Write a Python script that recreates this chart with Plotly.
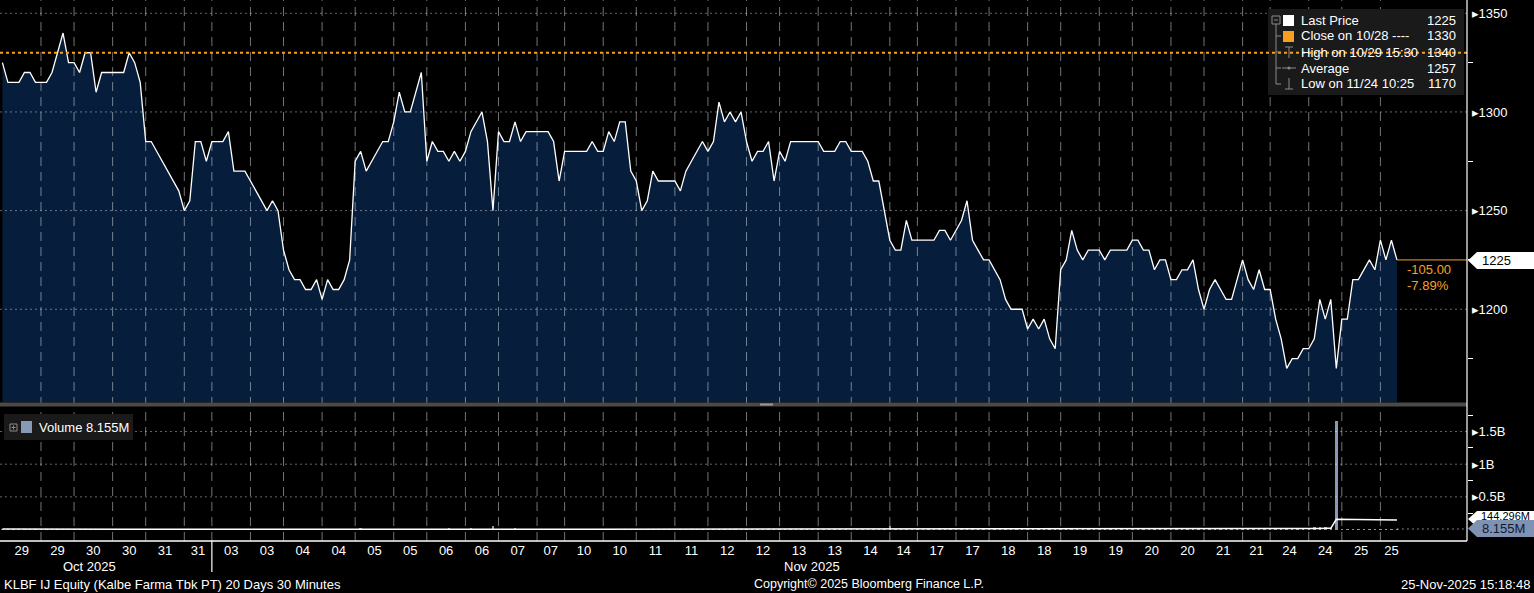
import plotly.graph_objects as go
import pandas as pd

# ---------------- data ----------------
DAY_LABELS = ["29", "30", "31", "03", "04", "05", "06", "07", "10", "11",
              "12", "13", "14", "17", "18", "19", "20", "21", "24", "25"]
# points per session (morning, afternoon) for each day
SESSION_POINTS = [7, 6, 7, 6, 7, 5, 7, 6, 7, 6, 7, 6, 7, 6, 7, 5, 7, 6, 7, 6,
                  7, 6, 7, 6, 7, 5, 7, 6, 7, 6, 7, 6, 7, 6, 7, 5, 7, 6, 7, 4]

PRICE = [
    1325, 1315, 1315, 1315, 1320, 1320, 1315, 1315, 1315, 1320, 1330, 1340, 1325,   # 10/29
    1325, 1320, 1330, 1330, 1310, 1320, 1320, 1320, 1320, 1320, 1330, 1325, 1315,   # 10/30
    1285, 1285, 1280, 1275, 1270, 1265, 1260, 1250, 1255, 1285, 1285, 1275,         # 10/31
    1285, 1285, 1285, 1290, 1270, 1270, 1270, 1265, 1260, 1255, 1250, 1255, 1250,   # 11/03
    1230, 1220, 1215, 1215, 1210, 1210, 1215, 1205, 1215, 1210, 1210, 1215, 1225,   # 11/04
    1275, 1280, 1270, 1275, 1280, 1285, 1285, 1295, 1310, 1300, 1300, 1310, 1320,   # 11/05
    1275, 1285, 1280, 1280, 1275, 1280, 1275, 1280, 1290, 1295, 1300, 1285, 1250,   # 11/06
    1290, 1285, 1285, 1295, 1285, 1290, 1290, 1290, 1290, 1290, 1285, 1265,         # 11/07
    1280, 1280, 1280, 1280, 1280, 1285, 1280, 1280, 1290, 1285, 1295, 1295, 1270,   # 11/10
    1265, 1250, 1255, 1270, 1265, 1265, 1265, 1265, 1260, 1270, 1275, 1280, 1285,   # 11/11
    1280, 1285, 1305, 1295, 1300, 1295, 1300, 1285, 1275, 1280, 1280, 1285, 1265,   # 11/12
    1280, 1275, 1285, 1285, 1285, 1285, 1285, 1285, 1280, 1280, 1280, 1285, 1285,   # 11/13
    1280, 1280, 1280, 1275, 1265, 1265, 1250, 1235, 1230, 1230, 1245, 1235,         # 11/14
    1235, 1235, 1235, 1235, 1240, 1240, 1235, 1240, 1245, 1255, 1235, 1230, 1225,   # 11/17
    1225, 1220, 1215, 1205, 1200, 1200, 1200, 1190, 1195, 1190, 1195, 1185, 1180,   # 11/18
    1220, 1225, 1240, 1230, 1225, 1230, 1230, 1230, 1225, 1230, 1230, 1230, 1230,   # 11/19
    1235, 1235, 1230, 1230, 1220, 1225, 1225, 1215, 1215, 1220, 1220, 1225, 1210,   # 11/20
    1200, 1210, 1215, 1210, 1205, 1205, 1215, 1225, 1215, 1210, 1220, 1210,         # 11/21
    1210, 1195, 1185, 1170, 1175, 1175, 1180, 1180, 1185, 1205, 1195, 1205, 1170,   # 11/24
    1195, 1195, 1215, 1215, 1220, 1225, 1220, 1235, 1225, 1235, 1225,               # 11/25
]

VOLUME_M = [
    6.1, 4.8, 5.2, 3.9, 4.4, 3.1, 2.7, 3.5, 2.9, 3.3, 4.0, 5.6, 7.2,
    4.1, 3.2, 2.8, 3.6, 2.5, 2.2, 3.0, 2.6, 2.4, 2.9, 3.4, 3.8, 6.5,
    5.4, 3.3, 2.9, 2.6, 3.1, 2.8, 3.5, 9.8, 4.2, 3.0, 2.7, 5.9,
    8.3, 4.6, 3.1, 2.8, 3.7, 2.4, 2.9, 3.2, 2.6, 3.0, 2.7, 3.6, 6.2,
    9.5, 6.8, 5.2, 4.1, 3.6, 3.9, 3.3, 4.8, 3.5, 3.2, 2.9, 4.4, 7.8,
    14.2, 25.6, 11.3, 6.4, 5.1, 4.7, 5.9, 7.3, 9.1, 6.0, 5.4, 8.2, 12.5,
    10.4, 6.9, 5.3, 4.2, 20.1, 5.8, 4.9, 6.3, 19.4, 7.1, 5.5, 6.2, 58.7,
    9.3, 7.4, 6.1, 24.8, 5.6, 4.3, 3.8, 4.1, 3.5, 3.2, 4.6, 8.9,
    6.7, 4.4, 3.6, 3.1, 2.8, 3.3, 2.6, 3.0, 2.4, 2.9, 3.5, 4.2, 14.6,
    5.9, 8.1, 4.7, 3.8, 3.4, 2.9, 3.1, 2.7, 3.3, 2.8, 3.6, 3.9, 5.1,
    6.3, 4.2, 9.7, 4.5, 3.7, 3.3, 3.0, 3.8, 3.1, 2.9, 3.4, 4.0, 15.2,
    5.2, 3.9, 3.4, 2.8, 3.1, 2.6, 2.9, 3.3, 2.7, 3.0, 3.2, 3.7, 5.8,
    6.4, 4.8, 5.5, 4.1, 9.3, 6.2, 8.7, 48.5, 15.3, 13.6, 9.2, 14.8,
    7.3, 5.1, 4.6, 3.9, 4.4, 3.6, 4.9, 3.8, 5.7, 6.9, 12.1, 5.4, 11.8,
    6.2, 4.7, 12.4, 11.6, 12.9, 7.5, 5.8, 8.4, 4.6, 5.3, 4.9, 6.1, 9.6,
    8.8, 6.4, 7.9, 5.2, 4.8, 4.3, 3.9, 4.5, 3.6, 3.4, 3.8, 4.1, 6.7,
    5.9, 4.6, 4.0, 3.5, 5.2, 3.7, 3.3, 4.4, 3.6, 3.1, 3.9, 4.2, 7.1,
    9.4, 6.6, 5.3, 4.7, 4.1, 3.8, 5.5, 14.9, 6.3, 5.0, 4.6, 19.7,
    8.6, 11.2, 9.8, 12.7, 8.1, 7.4, 6.9, 7.6, 38.5, 42.1, 36.8, 29.4, 1656.1,
    9.6, 7.8, 6.5, 5.9, 6.2, 5.4, 6.8, 7.3, 6.1, 5.7, 8.155,
]

LAST_PRICE = 1225
REF_CLOSE = 1330
HIGH = 1340
AVERAGE = 1257
LOW = 1170
CHANGE = "-105.00"
CHANGE_PCT = "-7.89%"
LAST_VOL = "8.155M"
VOL_AVG = "144.296M"

TITLE_LEFT = "KLBF IJ Equity (Kalbe Farma Tbk PT) 20 Days 30 Minutes"
TITLE_MID = "Copyright\u00a9 2025 Bloomberg Finance L.P."
TITLE_RIGHT = "25-Nov-2025 15:18:48"

assert len(PRICE) == sum(SESSION_POINTS) == len(VOLUME_M)

# ---------------- geometry ----------------
W, H = 1534, 593
PW, PH = 1467, 541  # plot area (left margin 0, top margin 0)
FONT = "Liberation Sans, Arial, sans-serif"
ORANGE = "#f7a020"
NAVY = "#061d3b"
VOLC = "rgb(136,153,184)"
GRID = "rgba(255,255,255,0.45)"


def fx(p):
    return p / PW


def fy(p):
    return 1 - p / PH


STEP, OFF = 5.512, 2.4
X0 = -OFF / STEP
X1 = (PW - OFF) / STEP
P_TOP = 1350 + 13.3 / 1.973
P_BOT = 1350 - (402 - 13.3) / 1.973
V_ZERO_PX, V_PER_M = 529.5, 65.3 / 1000.0
V_TOP = (V_ZERO_PX - 407) / V_PER_M
V_BOT = -(541 - V_ZERO_PX) / V_PER_M

idx = list(range(len(PRICE)))
starts = []
c = 0
for n in SESSION_POINTS:
    starts.append(c)
    c += n
ends = starts[1:] + [c]
mids = [(s + e) / 2 for s, e in zip(starts, ends)]
sess_labels = [d for d in DAY_LABELS for _ in range(2)]

vol_avg = pd.Series(VOLUME_M).rolling(12, min_periods=1).mean().tolist()

fig = go.Figure()
fig.add_trace(go.Scatter(x=idx, y=PRICE, mode="lines",
                         line=dict(color="white", width=1.3),
                         fill="tozeroy", fillcolor=NAVY,
                         xaxis="x", yaxis="y", hoverinfo="skip"))
fig.add_trace(go.Bar(x=idx, y=VOLUME_M, marker=dict(color=VOLC, line=dict(width=0)),
                     width=0.45, xaxis="x2", yaxis="y2", hoverinfo="skip"))
fig.add_trace(go.Scatter(x=idx, y=vol_avg, mode="lines",
                         line=dict(color="white", width=1.5),
                         xaxis="x2", yaxis="y2", hoverinfo="skip"))

shapes = []
# vertical session gridlines
for s in starts[1:]:
    shapes.append(dict(type="line", xref="x", yref="paper", x0=s, x1=s, y0=0, y1=1,
                       line=dict(color=GRID, width=1, dash="9px,6px"), layer="above"))
# horizontal dotted gridlines
for v in [1200, 1250, 1300, 1350]:
    shapes.append(dict(type="line", xref="paper", yref="y", x0=0, x1=1, y0=v, y1=v,
                       line=dict(color="rgba(255,255,255,0.4)", width=1, dash="2px,3px"), layer="above"))
for v in [500, 1000, 1500]:
    shapes.append(dict(type="line", xref="paper", yref="y2", x0=0, x1=1, y0=v, y1=v,
                       line=dict(color="rgba(255,255,255,0.4)", width=1, dash="2px,3px"), layer="above"))
# last volume dotted guide
shapes.append(dict(type="line", xref="x2", yref="y2", x0=idx[-1], x1=X1, y0=VOLUME_M[-1], y1=VOLUME_M[-1],
                   line=dict(color="rgba(255,255,255,0.5)", width=1, dash="2px,3px"), layer="above"))

# legend box (price)
shapes.append(dict(type="rect", xref="paper", yref="paper", x0=fx(1268), x1=fx(1464), y0=fy(95), y1=fy(9),
                   fillcolor="#1a1a1a", line=dict(width=0), layer="above"))
# reference close line (orange dotted)
shapes.append(dict(type="line", xref="paper", yref="y", x0=0, x1=1, y0=REF_CLOSE, y1=REF_CLOSE,
                   line=dict(color=ORANGE, width=2, dash="3px,3px"), layer="above"))
# last price orange line
shapes.append(dict(type="line", xref="x", yref="y", x0=idx[-1], x1=X1, y0=LAST_PRICE, y1=LAST_PRICE,
                   line=dict(color=ORANGE, width=1), layer="above"))

# legend icons
GR = "#8a8a8a"
shapes += [
    dict(type="rect", xref="paper", yref="paper", x0=fx(1272), x1=fx(1280), y0=fy(24), y1=fy(16),
         line=dict(color=GR, width=1), fillcolor="rgba(0,0,0,0)", layer="above"),
    dict(type="line", xref="paper", yref="paper", x0=fx(1274), x1=fx(1278), y0=fy(20), y1=fy(20),
         line=dict(color=GR, width=1), layer="above"),
    dict(type="line", xref="paper", yref="paper", x0=fx(1276), x1=fx(1276), y0=fy(24), y1=fy(84),
         line=dict(color=GR, width=1), layer="above"),
]
for r in [36, 52, 68, 84]:
    shapes.append(dict(type="line", xref="paper", yref="paper", x0=fx(1276), x1=fx(1281), y0=fy(r), y1=fy(r),
                       line=dict(color=GR, width=1), layer="above"))
shapes += [
    dict(type="rect", xref="paper", yref="paper", x0=fx(1283), x1=fx(1294), y0=fy(26), y1=fy(15),
         fillcolor="white", line=dict(width=0), layer="above"),
    dict(type="rect", xref="paper", yref="paper", x0=fx(1283), x1=fx(1294), y0=fy(42), y1=fy(31),
         fillcolor=ORANGE, line=dict(width=0), layer="above"),
    # high icon
    dict(type="line", xref="paper", yref="paper", x0=fx(1289), x1=fx(1289), y0=fy(47), y1=fy(58),
         line=dict(color=GR, width=1), layer="above"),
    dict(type="line", xref="paper", yref="paper", x0=fx(1285), x1=fx(1293), y0=fy(47), y1=fy(47),
         line=dict(color=GR, width=1), layer="above"),
    # average icon
    dict(type="line", xref="paper", yref="paper", x0=fx(1282), x1=fx(1296), y0=fy(68), y1=fy(68),
         line=dict(color=GR, width=1), layer="above"),
    dict(type="circle", xref="paper", yref="paper", x0=fx(1287.5), x1=fx(1290.5), y0=fy(69.5), y1=fy(66.5),
         fillcolor=GR, line=dict(width=0), layer="above"),
    # low icon
    dict(type="line", xref="paper", yref="paper", x0=fx(1289), x1=fx(1289), y0=fy(78), y1=fy(89),
         line=dict(color=GR, width=1), layer="above"),
    dict(type="line", xref="paper", yref="paper", x0=fx(1285), x1=fx(1293), y0=fy(89), y1=fy(89),
         line=dict(color=GR, width=1), layer="above"),
]

# volume legend box
shapes += [
    dict(type="rect", xref="paper", yref="paper", x0=fx(4), x1=fx(133), y0=fy(440), y1=fy(414),
         fillcolor="#1a1a1a", line=dict(width=0), layer="above"),
    dict(type="rect", xref="paper", yref="paper", x0=fx(10), x1=fx(17), y0=fy(431), y1=fy(424),
         line=dict(color=GR, width=1), fillcolor="rgba(0,0,0,0)", layer="above"),
    dict(type="line", xref="paper", yref="paper", x0=fx(11.5), x1=fx(15.5), y0=fy(427.5), y1=fy(427.5),
         line=dict(color=GR, width=1), layer="above"),
    dict(type="line", xref="paper", yref="paper", x0=fx(13.5), x1=fx(13.5), y0=fy(425.5), y1=fy(429.5),
         line=dict(color=GR, width=1), layer="above"),
    dict(type="rect", xref="paper", yref="paper", x0=fx(21), x1=fx(32), y0=fy(433), y1=fy(421),
         fillcolor=VOLC, line=dict(width=0), layer="above"),
]

# panel separator
shapes += [
    dict(type="rect", xref="paper", yref="paper", x0=0, x1=1, y0=fy(406.5), y1=fy(402.5),
         fillcolor="#4a4a4a", line=dict(width=0), layer="above"),
    dict(type="rect", xref="paper", yref="paper", x0=fx(760), x1=fx(773), y0=fy(405.5), y1=fy(403.5),
         fillcolor="#9a9a9a", line=dict(width=0), layer="above"),
]
# right axis line and bottom axis line
shapes += [
    dict(type="line", xref="paper", yref="paper", x0=1, x1=1, y0=0, y1=1,
         line=dict(color="white", width=1.2), layer="above"),
    dict(type="line", xref="paper", yref="paper", x0=0, x1=1, y0=0, y1=0,
         line=dict(color="white", width=1.5), layer="above"),
    dict(type="line", xref="x2", yref="paper", x0=starts[6], x1=starts[6], y0=fy(541), y1=fy(572),
         line=dict(color="white", width=1.2), layer="above"),
]


def flag(y_mid, y_top, y_bot, fill):
    pts = [(1468, y_mid), (1477, y_top), (1534, y_top), (1534, y_bot), (1477, y_bot)]
    path = "M " + " L ".join(f"{fx(a):.5f},{fy(b):.5f}" for a, b in pts) + " Z"
    return dict(type="path", xref="paper", yref="paper", path=path, fillcolor=fill,
                line=dict(width=0), layer="above")


shapes.append(flag(260.5, 252, 269, "white"))
shapes.append(flag(519, 511, 527, "white"))
shapes.append(flag(528.5, 520, 537, "rgb(128,146,178)"))

ann = []


def text(x, y, s, color="white", size=13, anchor="left"):
    ann.append(dict(x=fx(x), y=fy(y), xref="paper", yref="paper", text=s, showarrow=False,
                    xanchor=anchor, yanchor="middle", font=dict(color=color, size=size, family=FONT)))


legend_rows = [
    (20, "Last Price", LAST_PRICE),
    (36, "Close on 10/28 ----", REF_CLOSE),
    (52, "High on 10/29 15:30", HIGH),
    (68, "Average", AVERAGE),
    (84, "Low on 11/24 10:25", LOW),
]
for y, lab, val in legend_rows:
    text(1299, y, lab)
    text(1458, y, str(val), anchor="right")

text(37, 427, "Volume " + LAST_VOL)
text(1480, 260.5, str(LAST_PRICE), color="black")
text(1405, 269, CHANGE, color=ORANGE)
text(1405, 285, CHANGE_PCT, color=ORANGE)
text(1479, 516, VOL_AVG, color="black", size=11)
text(1480, 528.5, LAST_VOL, color="#0d1a33")
text(89, 566, "Oct 2025", anchor="center")
text(812, 566, "Nov 2025", anchor="center")
text(2, 584, TITLE_LEFT)
text(869, 584, TITLE_MID, size=12.5, anchor="center")
text(1532, 584, TITLE_RIGHT, anchor="right")

fig.update_layout(
    width=W, height=H,
    margin=dict(l=0, r=W - PW, t=0, b=H - PH, pad=0),
    paper_bgcolor="black", plot_bgcolor="black",
    showlegend=False, bargap=0,
    font=dict(family=FONT, color="white", size=13),
    shapes=shapes, annotations=ann,
    xaxis=dict(domain=[0, 1], range=[X0, X1], showgrid=False, zeroline=False,
               showticklabels=False, ticks="", anchor="y", fixedrange=True),
    yaxis=dict(domain=[fy(402), 1], range=[P_BOT, P_TOP], side="right", anchor="x",
               showgrid=False, zeroline=False, showline=False,
               tickmode="array", tickvals=[1200, 1250, 1300, 1350],
               ticktext=["\u25b8" + str(v) for v in [1200, 1250, 1300, 1350]],
               ticks="outside", ticklen=1, tickcolor="black",
               tickfont=dict(color="white", size=13, family=FONT),
               minor=dict(tickmode="array", tickvals=[1175, 1225, 1275, 1325],
                          ticks="outside", ticklen=5, tickcolor="white", showgrid=False)),
    xaxis2=dict(domain=[0, 1], range=[X0, X1], showgrid=False, zeroline=False, anchor="y2",
                tickmode="array", tickvals=mids, ticktext=sess_labels,
                ticks="", tickfont=dict(color="white", size=13, family=FONT), showline=False),
    yaxis2=dict(domain=[0, fy(407)], range=[V_BOT, V_TOP], side="right", anchor="x2",
                showgrid=False, zeroline=False, showline=False,
                tickmode="array", tickvals=[500, 1000, 1500],
                ticktext=["\u25b80.5B", "\u25b81B", "\u25b81.5B"],
                ticks="outside", ticklen=1, tickcolor="black",
                tickfont=dict(color="white", size=13, family=FONT),
                minor=dict(tickmode="array", tickvals=[250, 750, 1250, 1750],
                           ticks="outside", ticklen=5, tickcolor="white", showgrid=False)),
)

fig.write_html("out.html", config={"displayModeBar": False, "staticPlot": True})

# remove the browser's default body margin so the figure sits at the page origin
with open("out.html", "r", encoding="utf-8") as f:
    html = f.read()
html = html.replace("<body>", '<body style="margin:0;padding:0;background:black;">', 1)
html = html.replace("<head>", '<head><style>html,body{margin:0;padding:0;overflow:hidden;}</style>', 1)
with open("out.html", "w", encoding="utf-8") as f:
    f.write(html)
